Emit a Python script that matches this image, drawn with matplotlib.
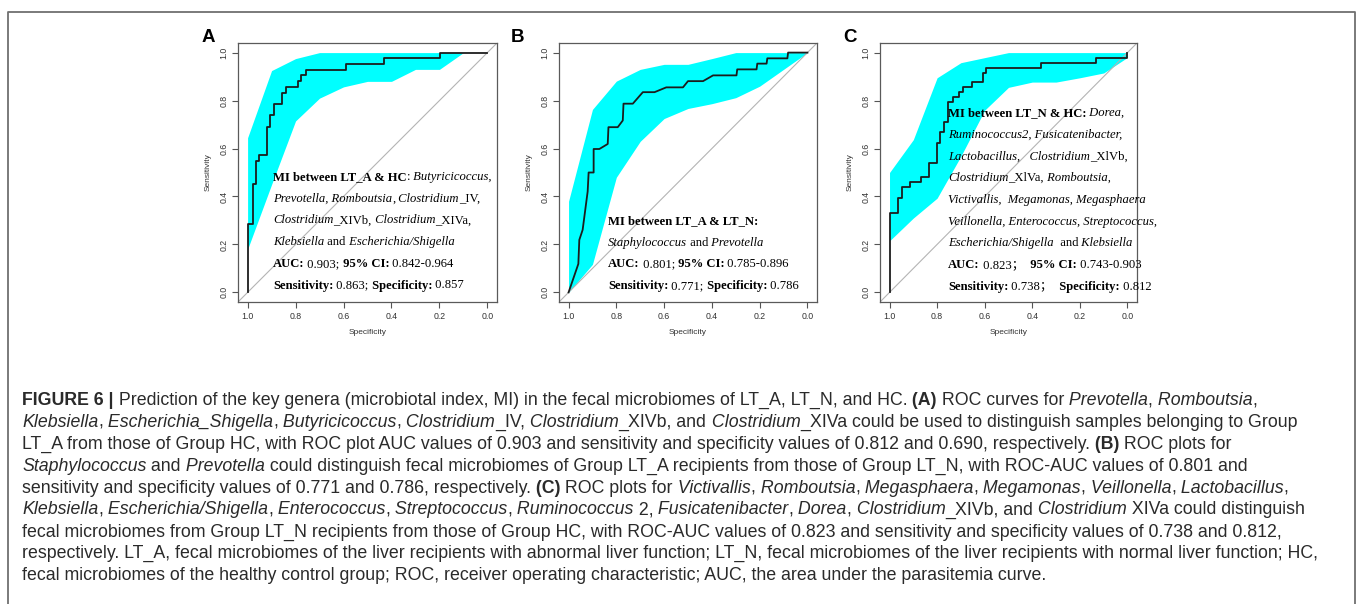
import matplotlib
matplotlib.use("Agg")
import matplotlib.pyplot as plt
from matplotlib.lines import Line2D

plt.rcParams['font.family'] = ['Liberation Sans', 'DejaVu Sans']

W, H = 1360, 604

# ---- data ----
spec_grid = [1.0, 0.9, 0.8, 0.7, 0.6, 0.5, 0.4, 0.3, 0.2, 0.1, 0.0]
tick_vals = [1.0, 0.8, 0.6, 0.4, 0.2, 0.0]
tick_labels = ['1.0', '0.8', '0.6', '0.4', '0.2', '0.0']

# panel A : LT_A vs HC
a_spec = [1.0, 1.0, 0.976, 0.976, 0.966, 0.966, 0.952, 0.952, 0.920, 0.920, 0.905, 0.905,
          0.888, 0.888, 0.857, 0.857, 0.840, 0.840, 0.790, 0.790, 0.776, 0.776, 0.758, 0.758,
          0.590, 0.590, 0.430, 0.430, 0.196, 0.196, 0.0]
a_sens = [0.0, 0.286, 0.286, 0.452, 0.452, 0.548, 0.548, 0.571, 0.571, 0.690, 0.690, 0.738,
          0.738, 0.786, 0.786, 0.833, 0.833, 0.857, 0.857, 0.881, 0.881, 0.905, 0.905, 0.929,
          0.929, 0.952, 0.952, 0.976, 0.976, 1.0, 1.0]
a_hi = [0.645, 0.925, 0.975, 1.0, 1.0, 1.0, 1.0, 1.0, 1.0, 1.0, 1.0]
a_lo = [0.18, 0.45, 0.715, 0.81, 0.857, 0.88, 0.88, 0.93, 0.93, 1.0, 1.0]

# panel B : LT_A vs LT_N
b_spec = [1.0, 0.959, 0.955, 0.941, 0.920, 0.916, 0.895, 0.895, 0.871, 0.836, 0.833, 0.794,
          0.773, 0.770, 0.731, 0.689, 0.640, 0.591, 0.521, 0.500, 0.437, 0.395, 0.297, 0.294,
          0.213, 0.210, 0.171, 0.168, 0.084, 0.081, 0.0]
b_sens = [0.0, 0.119, 0.219, 0.261, 0.421, 0.500, 0.500, 0.598, 0.598, 0.619, 0.689, 0.689,
          0.717, 0.787, 0.787, 0.835, 0.835, 0.855, 0.855, 0.881, 0.881, 0.905, 0.905, 0.930,
          0.930, 0.954, 0.954, 0.976, 0.976, 1.0, 1.0]
b_hi = [0.38, 0.763, 0.881, 0.93, 0.951, 0.951, 0.975, 1.0, 1.0, 1.0, 1.0]
b_lo = [0.0, 0.117, 0.48, 0.63, 0.725, 0.767, 0.787, 0.812, 0.86, 0.93, 1.0]

# panel C : LT_N vs HC
c_spec = [1.0, 1.0, 0.965, 0.965, 0.947, 0.947, 0.916, 0.916, 0.868, 0.868, 0.833, 0.833,
          0.802, 0.802, 0.788, 0.788, 0.770, 0.770, 0.753, 0.753, 0.735, 0.735, 0.707, 0.707,
          0.690, 0.690, 0.654, 0.654, 0.607, 0.607, 0.593, 0.593, 0.363, 0.363, 0.131, 0.131,
          0.0, 0.0]
c_sens = [0.0, 0.333, 0.333, 0.393, 0.393, 0.439, 0.439, 0.459, 0.459, 0.481, 0.481, 0.540,
          0.540, 0.623, 0.623, 0.668, 0.668, 0.710, 0.710, 0.794, 0.794, 0.814, 0.814, 0.835,
          0.835, 0.856, 0.856, 0.877, 0.877, 0.916, 0.916, 0.937, 0.937, 0.958, 0.958, 0.976,
          0.976, 1.0]
c_hi = [0.5, 0.637, 0.895, 0.958, 0.979, 1.0, 1.0, 1.0, 1.0, 1.0, 1.0]
c_lo = [0.215, 0.31, 0.393, 0.568, 0.76, 0.855, 0.877, 0.877, 0.895, 0.915, 0.98]

# text inside the panels: (text, style)  n=normal b=bold i=italic
a_text = [
    [("MI between LT_A & HC", "b"), (": ", "n"), ("Butyricicoccus,", "i")],
    [("Prevotella, Romboutsia", "i"), (", ", "n"), ("Clostridium", "i"), ("_IV,", "n")],
    [("Clostridium", "i"), ("_XIVb, ", "n"), ("Clostridium", "i"), ("_XIVa,", "n")],
    [("Klebsiella", "i"), (" and ", "n"), ("Escherichia/Shigella", "i")],
    [("AUC:", "b"), (" 0.903; ", "n"), ("95% CI:", "b"), (" 0.842-0.964", "n")],
    [("Sensitivity:", "b"), (" 0.863; ", "n"), ("Specificity:", "b"), (" 0.857", "n")],
]
b_text = [
    [("MI between LT_A & LT_N:", "b")],
    [("Staphylococcus", "i"), (" and ", "n"), ("Prevotella", "i")],
    [("AUC:", "b"), (" 0.801; ", "n"), ("95% CI:", "b"), (" 0.785-0.896", "n")],
    [("Sensitivity:", "b"), (" 0.771; ", "n"), ("Specificity:", "b"), (" 0.786", "n")],
]
c_text = [
    [("MI between LT_N & HC:", "b"), (" ", "n"), ("Dorea,", "i")],
    [("Ruminococcus2, Fusicatenibacter,", "i")],
    [("Lactobacillus,   Clostridium", "i"), ("_XlVb,", "n")],
    [("Clostridium", "i"), ("_XlVa, ", "n"), ("Romboutsia,", "i")],
    [("Victivallis,  Megamonas, Megasphaera", "i")],
    [("Veillonella, Enterococcus, Streptococcus,", "i")],
    [("Escherichia/Shigella", "i"), ("  and ", "n"), ("Klebsiella", "i")],
    [("AUC:", "b"), (" 0.823；  ", "n"), ("95% CI:", "b"), (" 0.743-0.903", "n")],
    [("Sensitivity:", "b"), (" 0.738；  ", "n"), ("Specificity:", "b"), (" 0.812", "n")],
]

caption = [
    [("FIGURE 6 |", "b"), (" Prediction of the key genera (microbiotal index, MI) in the fecal microbiomes of LT_A, LT_N, and HC. ", "n"),
     ("(A)", "b"), (" ROC curves for ", "n"), ("Prevotella", "i"), (", ", "n"), ("Romboutsia", "i"), (",", "n")],
    [("Klebsiella", "i"), (", ", "n"), ("Escherichia_Shigella", "i"), (", ", "n"), ("Butyricicoccus", "i"), (", ", "n"),
     ("Clostridium", "i"), ("_IV, ", "n"), ("Clostridium", "i"), ("_XIVb, and ", "n"), ("Clostridium", "i"),
     ("_XIVa could be used to distinguish samples belonging to Group", "n")],
    [("LT_A from those of Group HC, with ROC plot AUC values of 0.903 and sensitivity and specificity values of 0.812 and 0.690, respectively. ", "n"),
     ("(B)", "b"), (" ROC plots for", "n")],
    [("Staphylococcus", "i"), (" and ", "n"), ("Prevotella", "i"),
     (" could distinguish fecal microbiomes of Group LT_A recipients from those of Group LT_N, with ROC-AUC values of 0.801 and", "n")],
    [("sensitivity and specificity values of 0.771 and 0.786, respectively. ", "n"), ("(C)", "b"), (" ROC plots for ", "n"),
     ("Victivallis", "i"), (", ", "n"), ("Romboutsia", "i"), (", ", "n"), ("Megasphaera", "i"), (", ", "n"),
     ("Megamonas", "i"), (", ", "n"), ("Veillonella", "i"), (", ", "n"), ("Lactobacillus", "i"), (",", "n")],
    [("Klebsiella", "i"), (", ", "n"), ("Escherichia/Shigella", "i"), (", ", "n"), ("Enterococcus", "i"), (", ", "n"),
     ("Streptococcus", "i"), (", ", "n"), ("Ruminococcus", "i"), (" 2, ", "n"), ("Fusicatenibacter", "i"), (", ", "n"),
     ("Dorea", "i"), (", ", "n"), ("Clostridium", "i"), ("_XIVb, and ", "n"), ("Clostridium", "i"), (" XIVa could distinguish", "n")],
    [("fecal microbiomes from Group LT_N recipients from those of Group HC, with ROC-AUC values of 0.823 and sensitivity and specificity values of 0.738 and 0.812,", "n")],
    [("respectively. LT_A, fecal microbiomes of the liver recipients with abnormal liver function; LT_N, fecal microbiomes of the liver recipients with normal liver function; HC,", "n")],
    [("fecal microbiomes of the healthy control group; ROC, receiver operating characteristic; AUC, the area under the parasitemia curve.", "n")],
]

fig = plt.figure(figsize=(W / 100, H / 100), dpi=100)
renderer = fig.canvas.get_renderer()


def rich(x, y, pieces, size, family, color):
    # draw pieces one after another on one baseline, x / y in pixels from top-left
    carry = ''
    for s, st in pieces:
        s = carry + s
        core = s.rstrip(' ')
        carry = s[len(core):]
        t = fig.text(x / W, 1 - y / H, core, fontsize=size, family=family, color=color,
                     weight='bold' if st == 'b' else 'normal',
                     style='italic' if st == 'i' else 'normal',
                     ha='left', va='baseline')
        x += t.get_window_extent(renderer).width


def roc_panel(box, spec, sens, lo, hi, letter, letter_x, lines, text_x, text_y0):
    l, t, r, b = box
    ax = fig.add_axes([l / W, 1 - b / H, (r - l) / W, (b - t) / H])
    ax.fill_between(spec_grid, lo, hi, color='#00FFFF', lw=0, zorder=1)
    ax.plot([1.04, -0.04], [-0.04, 1.04], color='#b4b4b4', lw=0.8, zorder=2)
    ax.plot(spec, sens, color='#1c1c1c', lw=1.3, zorder=3)
    ax.set_xlim(1.04, -0.04)
    ax.set_ylim(-0.04, 1.04)
    ax.set_xticks(tick_vals)
    ax.set_xticklabels(tick_labels)
    ax.set_yticks(tick_vals)
    ax.set_yticklabels(tick_labels, rotation=90, va='center')
    ax.tick_params(length=4.5, width=0.8, color='#555555', labelsize=6.3,
                   labelcolor='#333333', pad=2.5)
    for sp in ax.spines.values():
        sp.set_color('#5a5a5a')
        sp.set_linewidth(0.9)
    ax.text(0.5, -31 / (b - t), 'Specificity', transform=ax.transAxes, ha='center',
            va='center', fontsize=6, color='#333333')
    ax.text(-30 / (r - l), 0.5, 'Sensitivity', transform=ax.transAxes, ha='center',
            va='center', rotation=90, fontsize=6, color='#333333')
    fig.text(letter_x / W, 1 - 38 / H, letter, fontsize=13.5, weight='bold',
             ha='center', va='center', color='black')
    for k, pieces in enumerate(lines):
        rich(text_x, text_y0 + k * 21.7, pieces, 9.05, ['Liberation Serif', 'Noto Sans CJK SC'], 'black')


roc_panel((238, 43, 497, 302), a_spec, a_sens, a_lo, a_hi, 'A', 208, a_text, 273, 180)
roc_panel((559, 43, 817, 302), b_spec, b_sens, b_lo, b_hi, 'B', 518, b_text, 608, 224)
roc_panel((880, 43, 1137, 302), c_spec, c_sens, c_lo, c_hi, 'C', 850, c_text, 948, 116)

# caption
for k, pieces in enumerate(caption):
    rich(22, 405 + k * 21.9, pieces, 12.8, ['Liberation Sans'], '#2a2a2a')

# frame around the figure (open at the bottom)
fig.add_artist(Line2D([8 / W, 8 / W, 1355 / W, 1355 / W],
                      [-0.01, 1 - 12 / H, 1 - 12 / H, -0.01],
                      transform=fig.transFigure, color='#707070', lw=1.3))

fig.savefig('out.png', dpi=100)
